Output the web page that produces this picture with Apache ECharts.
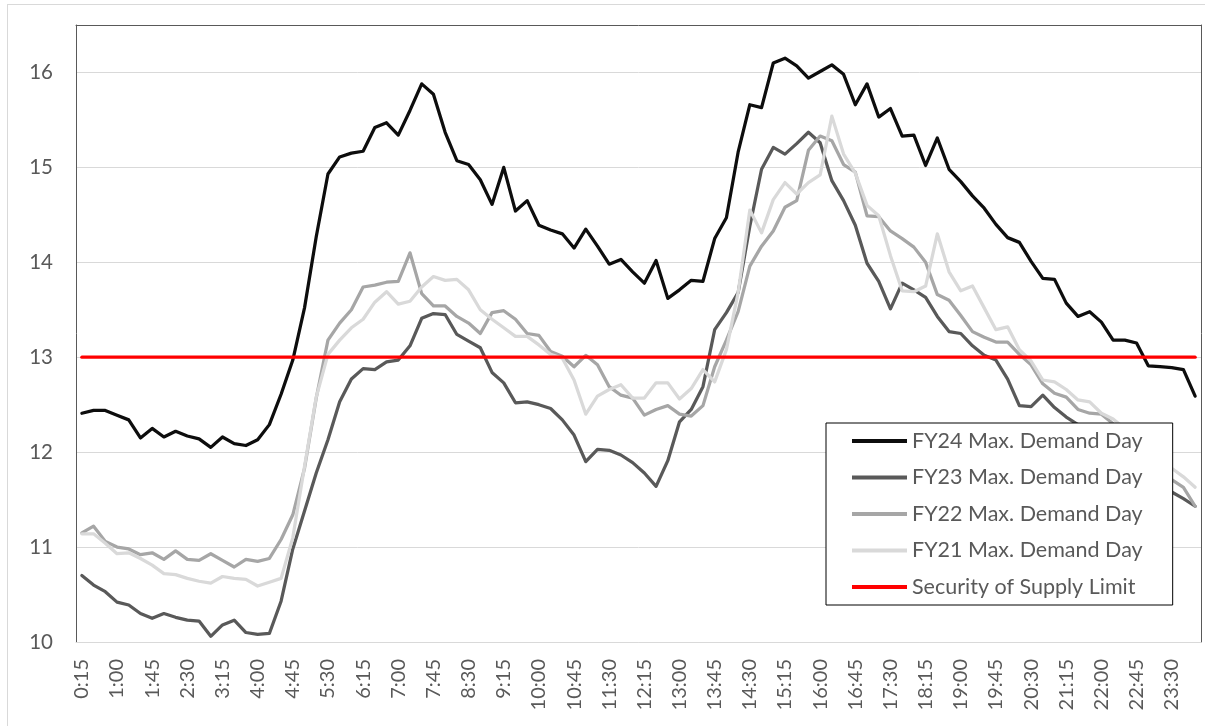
<!DOCTYPE html>
<html>
<head>
<meta charset="utf-8">
<script src="https://cdn.jsdelivr.net/npm/echarts@6/dist/echarts.min.js"></script>
<style>
  html, body { margin: 0; padding: 0; background: #fff; overflow: hidden; }
  #frame { position: absolute; left: 7px; top: 4px; width: 1300px; height: 800px; border: 1px solid #d9d9d9; }
  #chart { position: absolute; left: 0; top: 0; width: 1205px; height: 726px; }
</style>
</head>
<body>
<div id="frame"></div>
<div id="chart"></div>
<script>
// 15 minute time slots, 0:15 .. 24:00
var times = [
  "0:15","0:30","0:45","1:00","1:15","1:30","1:45","2:00","2:15","2:30","2:45","3:00",
  "3:15","3:30","3:45","4:00","4:15","4:30","4:45","5:00","5:15","5:30","5:45","6:00",
  "6:15","6:30","6:45","7:00","7:15","7:30","7:45","8:00","8:15","8:30","8:45","9:00",
  "9:15","9:30","9:45","10:00","10:15","10:30","10:45","11:00","11:15","11:30","11:45","12:00",
  "12:15","12:30","12:45","13:00","13:15","13:30","13:45","14:00","14:15","14:30","14:45","15:00",
  "15:15","15:30","15:45","16:00","16:15","16:30","16:45","17:00","17:15","17:30","17:45","18:00",
  "18:15","18:30","18:45","19:00","19:15","19:30","19:45","20:00","20:15","20:30","20:45","21:00",
  "21:15","21:30","21:45","22:00","22:15","22:30","22:45","23:00","23:15","23:30","23:45","24:00"
];

var fy24 = [
  12.41,12.44,12.44,12.39,12.34,12.15,12.25,12.16,12.22,12.17,12.14,12.05,
  12.16,12.09,12.07,12.13,12.29,12.61,12.97,13.52,14.27,14.93,15.11,15.15,
  15.17,15.42,15.47,15.34,15.60,15.88,15.77,15.37,15.07,15.03,14.87,14.61,
  15.00,14.54,14.65,14.39,14.34,14.30,14.15,14.35,14.17,13.98,14.03,13.90,
  13.78,14.02,13.62,13.71,13.81,13.80,14.25,14.47,15.16,15.66,15.63,16.10,
  16.15,16.07,15.94,16.01,16.08,15.98,15.66,15.88,15.53,15.62,15.33,15.34,
  15.02,15.31,14.98,14.85,14.70,14.57,14.40,14.26,14.21,14.01,13.83,13.82,
  13.57,13.43,13.48,13.37,13.18,13.18,13.15,12.91,12.90,12.89,12.87,12.59
];

var fy23 = [
  10.70,10.60,10.53,10.42,10.39,10.30,10.25,10.30,10.26,10.23,10.22,10.06,
  10.18,10.23,10.10,10.08,10.09,10.43,10.98,11.38,11.78,12.13,12.53,12.77,
  12.88,12.87,12.95,12.97,13.12,13.41,13.46,13.45,13.24,13.17,13.10,12.84,
  12.73,12.52,12.53,12.50,12.46,12.34,12.18,11.90,12.03,12.02,11.97,11.89,
  11.78,11.64,11.91,12.32,12.45,12.69,13.29,13.47,13.68,14.38,14.98,15.21,
  15.14,15.25,15.37,15.26,14.86,14.65,14.39,13.99,13.80,13.51,13.78,13.71,
  13.63,13.43,13.27,13.25,13.12,13.02,12.97,12.77,12.49,12.48,12.60,12.47,
  12.37,12.29,12.20,12.10,12.00,11.90,11.80,11.72,11.65,11.58,11.51,11.43
];

var fy22 = [
  11.15,11.22,11.06,11.00,10.98,10.92,10.94,10.87,10.96,10.87,10.86,10.93,
  10.86,10.79,10.87,10.85,10.88,11.08,11.34,11.83,12.57,13.18,13.36,13.50,
  13.74,13.76,13.79,13.80,14.10,13.67,13.54,13.54,13.43,13.36,13.25,13.47,
  13.49,13.40,13.25,13.23,13.06,13.01,12.90,13.02,12.92,12.69,12.60,12.57,
  12.39,12.45,12.49,12.40,12.38,12.49,12.90,13.18,13.48,13.96,14.17,14.33,
  14.58,14.65,15.18,15.33,15.28,15.03,14.95,14.49,14.48,14.33,14.25,14.16,
  14.00,13.66,13.60,13.44,13.27,13.21,13.16,13.16,13.03,12.92,12.72,12.62,
  12.58,12.45,12.41,12.40,12.30,12.15,12.00,11.90,11.80,11.71,11.63,11.43
];

var fy21 = [
  11.14,11.14,11.04,10.93,10.94,10.88,10.81,10.72,10.71,10.67,10.64,10.62,
  10.69,10.67,10.66,10.59,10.63,10.67,11.10,11.85,12.58,13.03,13.18,13.31,
  13.40,13.58,13.69,13.56,13.59,13.74,13.85,13.81,13.82,13.71,13.50,13.40,
  13.31,13.22,13.22,13.13,13.03,12.99,12.76,12.40,12.59,12.66,12.71,12.57,
  12.57,12.73,12.73,12.56,12.67,12.87,12.74,13.08,13.68,14.55,14.31,14.66,
  14.84,14.72,14.84,14.92,15.54,15.14,14.94,14.60,14.49,14.07,13.70,13.69,
  13.75,14.30,13.90,13.70,13.75,13.52,13.29,13.32,13.08,12.96,12.76,12.74,
  12.66,12.55,12.53,12.41,12.35,12.25,12.15,12.00,11.90,11.83,11.74,11.63
];

var securityLimit = 13;

var yTicks = [10, 11, 12, 13, 14, 15, 16];

var chartDom = document.getElementById("chart");
var myChart = echarts.init(chartDom);
var option;

var fontName = "Lato";
var labelColor = "#595959";

function lineSeries(name, data, color) {
  return {
    name: name,
    type: "line",
    data: data,
    symbol: "none",
    showSymbol: false,
    lineStyle: { color: color, width: 3.25, join: "round", cap: "round" },
    itemStyle: { color: color },
  };
}

option = {
  animation: false,
  backgroundColor: "transparent",
  grid: { left: 76, top: 25, right: 4, bottom: 84 },
  legend: {
    orient: "vertical",
    left: 826,
    top: 423,
    padding: [6, 30, 6, 26],
    backgroundColor: "#ffffff",
    borderColor: "#000000",
    borderWidth: 1,
    borderRadius: 0,
    icon: "rect",
    itemWidth: 55,
    itemHeight: 4,
    itemGap: 12.5,
    textStyle: { color: labelColor, fontSize: 21.5, fontFamily: fontName, lineHeight: 24 },
  },
  xAxis: [
    {
      type: "category",
      data: times,
      boundaryGap: true,
      axisLine: { show: true, lineStyle: { color: "#d9d9d9", width: 1 } },
      axisTick: { show: false },
      axisLabel: {
        interval: 2,
        rotate: 90,
        margin: 17,
        color: labelColor,
        fontSize: 20,
        fontFamily: fontName,
      },
      splitLine: { show: false },
    },
    {
      // plot-area frame, top edge
      type: "category",
      data: times,
      position: "top",
      axisLine: { show: true, lineStyle: { color: "#595959", width: 1 } },
      axisTick: { show: false },
      axisLabel: { show: false },
      splitLine: { show: false },
    },
  ],
  yAxis: [
    {
      type: "value",
      min: yTicks[0],
      max: 16.5,
      interval: 1,
      axisLine: { show: true, lineStyle: { color: "#595959", width: 1 } },
      axisTick: { show: false },
      axisLabel: {
        showMaxLabel: false,
        margin: 23,
        color: labelColor,
        fontSize: 20.5,
        fontFamily: fontName,
      },
      splitLine: { show: true, lineStyle: { color: "#d9d9d9", width: 1 } },
    },
    {
      // plot-area frame, right edge
      type: "value",
      position: "right",
      min: yTicks[0],
      max: 16.5,
      interval: 1,
      axisLine: { show: true, lineStyle: { color: "#595959", width: 1 } },
      axisTick: { show: false },
      axisLabel: { show: false },
      splitLine: { show: false },
    },
  ],
  series: [
    lineSeries("FY24 Max. Demand Day", fy24, "#0d0d0d"),
    lineSeries("FY23 Max. Demand Day", fy23, "#595959"),
    lineSeries("FY22 Max. Demand Day", fy22, "#a6a6a6"),
    lineSeries("FY21 Max. Demand Day", fy21, "#d9d9d9"),
    lineSeries(
      "Security of Supply Limit",
      times.map(function () { return securityLimit; }),
      "#ff0000"
    ),
  ],
};

option && myChart.setOption(option);
</script>
</body>
</html>
